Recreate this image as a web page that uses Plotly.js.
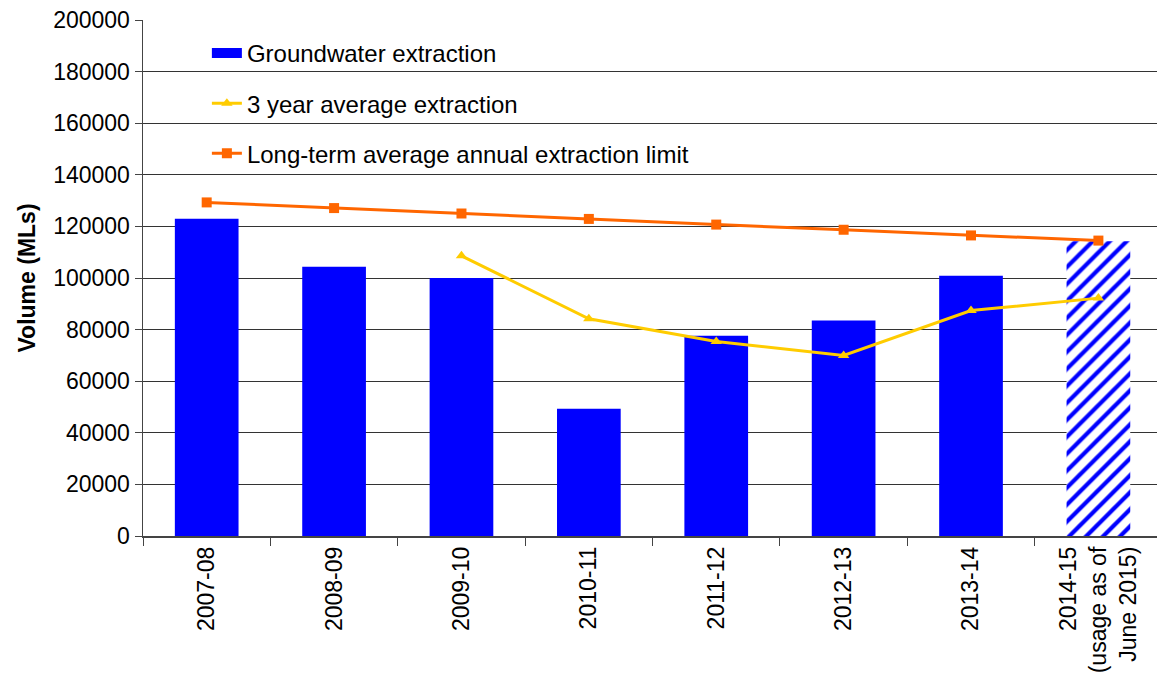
<!DOCTYPE html>
<html>
<head>
<meta charset="utf-8">
<script src="https://cdn.plot.ly/plotly-3.0.1.min.js"></script>
<style>html,body{margin:0;padding:0;background:#fff;}#chart{width:1157px;height:684px;}</style>
</head>
<body>
<div id="chart"></div>
<script>
var categories = ["2007-08", "2008-09", "2009-10", "2010-11", "2011-12", "2012-13", "2013-14", "2014-15<br>(usage as of<br>June 2015)"];
var extraction = [123000, 104400, 100000, 49300, 77600, 83500, 100900, 114200];
var barPattern = ["", "", "", "", "", "", "", "/"];
var threeYearAvg = [null, null, 108600, 84200, 75400, 70000, 87400, 92200];
var longTermLimit = [129300, 127100, 125000, 122900, 120700, 118700, 116500, 114500];

var FONT = "Liberation Sans, Arial, sans-serif";

var traces = [
  {
    type: "bar", name: "Groundwater extraction", x: categories, y: extraction,
    width: 0.5, legendgroup: "a", showlegend: false,
    marker: {color: "#0000FF", line: {width: 0},
      pattern: {shape: barPattern, fgcolor: "#0000FF", bgcolor: "#FFFFFF", size: 12, solidity: 0.35}}
  },
  {
    type: "scatter", mode: "lines", name: "Groundwater extraction",
    x: [null], y: [null], legendgroup: "a", showlegend: true, hoverinfo: "skip",
    line: {color: "#0000FF", width: 15}
  },
  {
    type: "scatter", mode: "lines+markers", name: "3 year average extraction",
    x: categories, y: threeYearAvg, legendgroup: "b",
    line: {color: "#FFCC00", width: 3},
    marker: {symbol: "triangle-up", size: 10, color: "#FFCC00"}
  },
  {
    type: "scatter", mode: "lines+markers", name: "Long-term average annual extraction limit",
    x: categories, y: longTermLimit, legendgroup: "c",
    line: {color: "#FF6600", width: 3},
    marker: {symbol: "square", size: 10, color: "#FF6600"}
  }
];

var layout = {
  width: 1157, height: 684,
  margin: {l: 143, r: 0, t: 20, b: 148},
  paper_bgcolor: "#FFFFFF", plot_bgcolor: "#FFFFFF",
  font: {family: FONT, size: 24, color: "#000"},
  showlegend: true,
  legend: {
    x: 0.063, xanchor: "left", y: 0.979, yanchor: "top",
    bgcolor: "rgba(0,0,0,0)", borderwidth: 0,
    font: {family: FONT, size: 24, color: "#000"},
    traceorder: "grouped", tracegroupgap: 16
  },
  xaxis: {
    type: "category", range: [-0.5, 7.46],
    showline: true, linecolor: "#444", linewidth: 1.5,
    ticks: "outside", tickson: "boundaries", ticklen: 8, tickcolor: "#444",
    tickangle: -90, tickfont: {family: FONT, size: 23, color: "#000"},
    showgrid: false, zeroline: false, fixedrange: true
  },
  yaxis: {
    range: [0, 200000], dtick: 20000, tickformat: "d",
    showline: true, linecolor: "#444", linewidth: 1.5,
    ticks: "outside", ticklen: 7, tickcolor: "#444",
    showgrid: true, gridcolor: "#333", gridwidth: 1, zeroline: false,
    tickfont: {family: FONT, size: 23, color: "#000"},
    title: {text: "<b>Volume (MLs)</b>", font: {family: FONT, size: 23, color: "#000"}, standoff: 11},
    fixedrange: true
  },
  shapes: [
    {type: "rect", xref: "paper", yref: "paper", x0: 0.0227, x1: 0.573, y0: 0.696, y1: 0.997,
     fillcolor: "#FFFFFF", line: {width: 0}, layer: "between"}
  ]
};

Plotly.newPlot("chart", traces, layout, {displayModeBar: false, staticPlot: true});
</script>
</body>
</html>
